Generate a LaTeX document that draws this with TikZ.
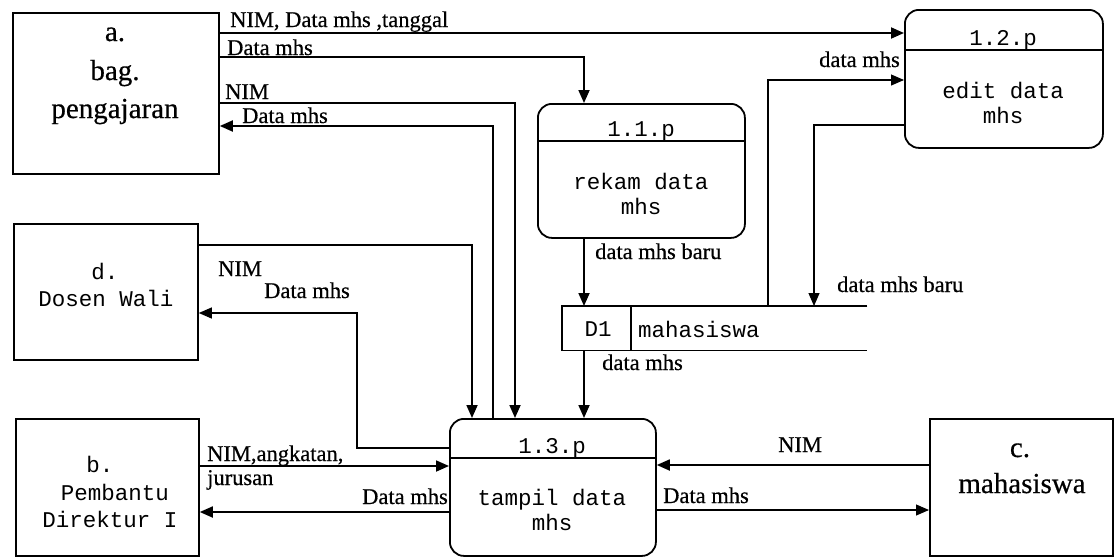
\documentclass[tikz,border=0pt]{standalone}
\usepackage{fontspec}
\setmainfont{Liberation Serif}
\setmonofont{Liberation Mono}
\newfontfamily\flowfont{Liberation Serif}[FakeBold=0.5]
\usetikzlibrary{arrows.meta}

\tikzset{
  ent/.style={draw, line width=1.8pt, anchor=north west, inner sep=0pt},
  proc/.style={draw, line width=1.8pt, rounded corners=14pt, anchor=north west, inner sep=0pt},
  tip/.style={-{Triangle[length=13pt,width=11pt]}},
  flow/.style={line width=1.8pt},
  thinflow/.style={line width=1.1pt},
  lbl/.style={font=\flowfont\fontsize{22.5}{24}\selectfont, inner sep=0pt},
  bigtxt/.style={font=\flowfont\fontsize{29}{32}\selectfont, inner sep=0pt, anchor=base},
  monotxt/.style={font=\ttfamily\fontsize{22.5}{24}\selectfont, inner sep=0pt, anchor=base},
  proctxt/.style={font=\ttfamily\fontsize{22.5}{25.5}\selectfont, align=center, inner sep=0pt},
}

\begin{document}
\begin{tikzpicture}[x=1pt,y=-1pt]
\useasboundingbox (0,0) rectangle (1116,557);

% external entities
\node[ent, minimum width=206pt, minimum height=161pt] (a) at (12,12) {};
\node[ent, minimum width=184pt, minimum height=136pt] (d) at (13,223) {};
\node[ent, minimum width=183pt, minimum height=137pt] (b) at (15,418) {};
\node[ent, minimum width=183pt, minimum height=137pt] (c) at (929,418) {};

\node[bigtxt] (a1) at (115,41) {a.};
\node[bigtxt] (a2) at (115,80) {bag.};
\node[bigtxt] (a3) at (115,118) {pengajaran};

\node[monotxt] (d1t) at (105,279) {d.};
\node[monotxt] (d2t) at (106,306) {Dosen Wali};

\node[monotxt] (b1t) at (100,472) {b.};
\node[monotxt] (b2t) at (115,500) {Pembantu};
\node[monotxt] (b3t) at (110,527) {Direktur I};

\node[bigtxt] (c1t) at (1020,457) {c.};
\node[bigtxt] (c2t) at (1022,493) {mahasiswa};

% processes
\node[proc, minimum width=207pt, minimum height=134pt] (p11) at (537,103) {};
\node[proc, minimum width=198pt, minimum height=138pt] (p12) at (904,9) {};
\node[proc, minimum width=206pt, minimum height=137pt] (p13) at (449,418) {};

\draw[line width=1.6pt] (p11.west |- 0,141) -- (p11.east |- 0,141);
\draw[line width=1.6pt] (p12.west |- 0,50) -- (p12.east |- 0,50);
\draw[line width=1.6pt] (p13.west |- 0,458) -- (p13.east |- 0,458);

\node[proctxt, anchor=base] (p11n) at (641,136) {1.1.p};
\node[proctxt] (p11b) at (641,194) {rekam data\\mhs};
\node[proctxt, anchor=base] (p12n) at (1003,45) {1.2.p};
\node[proctxt] (p12b) at (1003,103) {edit data\\mhs};
\node[proctxt, anchor=base] (p13n) at (552,453) {1.3.p};
\node[proctxt] (p13b) at (552,510) {tampil data\\mhs};

% data store
\node[anchor=north west, minimum width=305pt, minimum height=44pt, inner sep=0pt] (st) at (562,306) {};
\draw[line width=1.6pt] (st.north east) -- (st.north west) -- (st.south west) -- (st.south east);
\draw[line width=1.6pt] (st.north west -| 631,0) -- (st.south west -| 631,0);
\node[proctxt] (stid) at (598,329) {D1};
\node[proctxt, anchor=west] (stname) at (638,329) {mahasiswa};

% flows
\draw[flow, tip] (a.east |- 0,33) -- (p12.west |- 0,33);
\draw[flow, tip] (a.east |- 0,57) -- (584,57) -- (p11.north -| 584,0);
\draw[flow, tip] (a.east |- 0,103) -- (515,103) -- (p13.north -| 515,0);
\draw[flow, tip] (p13.north -| 493,0) -- (493,126) -- (a.east |- 0,126);
\draw[flow, tip] (d.east |- 0,245) -- (472,245) -- (p13.north -| 472,0);
\draw[thinflow, tip] (p13.west |- 0,448) -- (357,448) -- (357,313) -- (d.east |- 0,313);
\draw[flow, tip] (b.east |- 0,466) -- (p13.west |- 0,466);
\draw[flow, tip] (p13.west |- 0,512) -- (b.east |- 0,512);
\draw[flow, tip] (c.west |- 0,465) -- (p13.east |- 0,465);
\draw[thinflow, tip] (p13.east |- 0,510) -- (c.west |- 0,510);
\draw[flow, tip] (p11.south -| 584,0) -- (st.north -| 584,0);
\draw[flow, tip] (st.south -| 584,0) -- (p13.north -| 584,0);
\draw[thinflow, tip] (st.north -| 768,0) -- (768,80) -- (p12.west |- 0,80);
\draw[thinflow, tip] (p12.west |- 0,125) -- (814,125) -- (st.north -| 814,0);

% flow labels
\node[lbl, anchor=base west] (l1) at (230,27) {NIM, Data mhs ,tanggal};
\node[lbl, anchor=base west] (l2) at (227,55) {Data mhs};
\node[lbl, anchor=base west] (l3) at (225,99) {NIM};
\node[lbl, anchor=base west] (l4) at (242,123) {Data mhs};
\node[lbl, anchor=base east] (l5) at (900,67) {data mhs};
\node[lbl, anchor=base west] (l6) at (595,259) {data mhs baru};
\node[lbl, anchor=base west] (l7) at (837,292) {data mhs baru};
\node[lbl, anchor=base west] (l8) at (602,370) {data mhs};
\node[lbl, anchor=base west] (l9) at (218,276) {NIM};
\node[lbl, anchor=base west] (l10) at (264,298) {Data mhs};
\node[lbl, anchor=base west] (l11) at (207,461) {NIM,angkatan,};
\node[lbl, anchor=base west] (l12) at (207,485) {jurusan};
\node[lbl, anchor=base east] (l13) at (448,504) {Data mhs};
\node[lbl, anchor=base west] (l14) at (778,452) {NIM};
\node[lbl, anchor=base west] (l15) at (663,503) {Data mhs};
\end{tikzpicture}
\end{document}
